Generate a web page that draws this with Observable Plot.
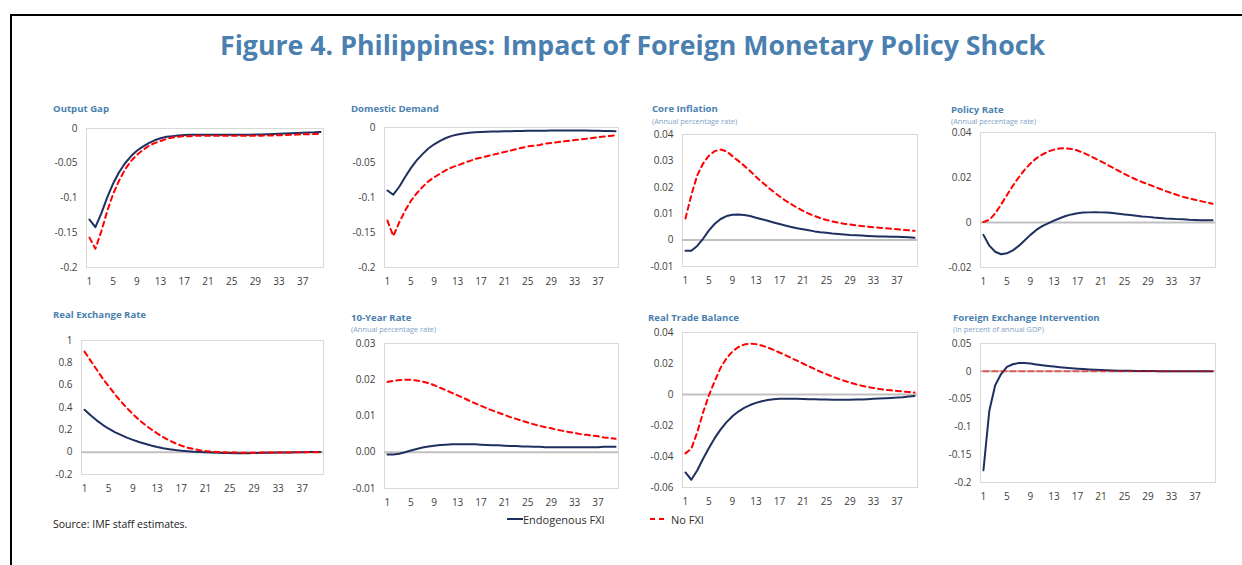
<!DOCTYPE html>
<html>
<head>
<meta charset="utf-8">
<script src="https://cdn.jsdelivr.net/npm/d3@7"></script>
<script src="https://cdn.jsdelivr.net/npm/@observablehq/plot@0.6"></script>
<style>
  html, body { margin: 0; padding: 0; background: #fff; }
  #root { position: relative; width: 1242px; height: 565px; overflow: hidden; font-family: 'Open Sans', 'Noto Sans', sans-serif; }
  .abs { position: absolute; white-space: nowrap; }
  .ptitle { font-weight: 700; font-size: 9.6px; color: #4a7fb0; transform: translateY(-50%); line-height: 1; }
  .psub { font-size: 7.4px; color: #7f9fc4; transform: translateY(-50%); line-height: 1; }
  .legtext { font-size: 11px; color: #303030; transform: translateY(-50%); }
</style>
</head>
<body>
<div id="root">
  <div class="abs" style="left:10px;top:14px;width:1240px;height:560px;border-top:2px solid #000;border-left:2px solid #000;"></div>
  <div id="mainTitle" class="abs" style="left:220px;top:45px;font-weight:700;font-size:26px;color:#4a7fb0;transform-origin:0 50%;">Figure 4. Philippines: Impact of Foreign Monetary Policy Shock</div>
</div>
<script>
// ---------- DATA ----------
const periods = [1,2,3,4,5,6,7,8,9,10,11,12,13,14,15,16,17,18,19,20,21,22,23,24,25,26,27,28,29,30,31,32,33,34,35,36,37,38,39,40];
const xTickLabels = [1,5,9,13,17,21,25,29,33,37];
const seriesNames = ["Endogenous FXI", "No FXI"];

const outputGapEndo = [-0.131,-0.142,-0.122,-0.099,-0.079,-0.063,-0.050,-0.040,-0.032,-0.026,-0.021,-0.017,-0.014,-0.012,-0.011,-0.010,-0.0095,-0.009,-0.009,-0.009,-0.009,-0.009,-0.009,-0.009,-0.009,-0.009,-0.009,-0.009,-0.0088,-0.0085,-0.0082,-0.008,-0.0077,-0.0073,-0.007,-0.0066,-0.0062,-0.0058,-0.0055,-0.005];
const outputGapNoFXI = [-0.157,-0.173,-0.148,-0.119,-0.094,-0.075,-0.059,-0.047,-0.038,-0.031,-0.025,-0.021,-0.018,-0.015,-0.013,-0.012,-0.011,-0.011,-0.0105,-0.0105,-0.0105,-0.0105,-0.0105,-0.0105,-0.0105,-0.0105,-0.0105,-0.0105,-0.0105,-0.0103,-0.0101,-0.0099,-0.0097,-0.0094,-0.0091,-0.0088,-0.0085,-0.0082,-0.0079,-0.0076];
const outputGapTicks = [-0.2,-0.15,-0.1,-0.05,0];

const domDemandEndo = [-0.090,-0.096,-0.085,-0.071,-0.058,-0.047,-0.038,-0.030,-0.024,-0.019,-0.015,-0.012,-0.010,-0.0085,-0.0075,-0.0068,-0.0063,-0.006,-0.0058,-0.0056,-0.0054,-0.0052,-0.005,-0.0049,-0.0048,-0.0047,-0.0046,-0.0045,-0.0044,-0.0044,-0.0044,-0.0044,-0.0044,-0.0044,-0.0044,-0.0045,-0.0047,-0.005,-0.0051,-0.0052];
const domDemandNoFXI = [-0.133,-0.155,-0.136,-0.119,-0.105,-0.094,-0.085,-0.077,-0.071,-0.066,-0.061,-0.057,-0.054,-0.051,-0.048,-0.045,-0.043,-0.041,-0.039,-0.037,-0.035,-0.033,-0.031,-0.029,-0.027,-0.026,-0.025,-0.023,-0.022,-0.021,-0.020,-0.019,-0.018,-0.017,-0.016,-0.015,-0.014,-0.013,-0.012,-0.011];
const domDemandTicks = [-0.2,-0.15,-0.1,-0.05,0];

const coreInflEndo = [-0.004,-0.004,-0.0022,0.0005,0.0037,0.0062,0.0080,0.0091,0.0096,0.0097,0.0095,0.0091,0.0085,0.0079,0.0073,0.0067,0.0061,0.0055,0.0050,0.0045,0.0041,0.0037,0.0033,0.0030,0.0028,0.0025,0.0023,0.0021,0.0019,0.0018,0.0017,0.0016,0.0015,0.0014,0.0014,0.0013,0.0013,0.0012,0.0011,0.0009];
const coreInflNoFXI = [0.0082,0.017,0.0245,0.029,0.032,0.0337,0.0343,0.0336,0.0318,0.0300,0.0282,0.0262,0.0240,0.0220,0.0201,0.0183,0.0166,0.0150,0.0136,0.0123,0.0111,0.0100,0.0091,0.0083,0.0076,0.0071,0.0066,0.0062,0.0059,0.0056,0.0053,0.0051,0.0049,0.0047,0.0045,0.0043,0.0041,0.0039,0.0037,0.0035];
const coreInflTicks = [-0.01,0,0.01,0.02,0.03,0.04];

const policyEndo = [-0.0055,-0.0103,-0.0130,-0.0141,-0.0137,-0.0124,-0.0104,-0.0080,-0.0055,-0.0033,-0.0016,-0.0004,0.0008,0.0019,0.0029,0.0036,0.0041,0.0044,0.0045,0.0046,0.0045,0.0044,0.0042,0.0039,0.0036,0.0033,0.0030,0.0027,0.0025,0.0022,0.0020,0.0018,0.0017,0.0015,0.0014,0.0012,0.0011,0.0010,0.0010,0.0010];
const policyNoFXI = [0.0002,0.0012,0.0040,0.0080,0.0122,0.0163,0.0200,0.0234,0.0262,0.0285,0.0302,0.0315,0.0324,0.0329,0.0330,0.0327,0.0320,0.0310,0.0298,0.0285,0.0272,0.0258,0.0244,0.0230,0.0216,0.0203,0.0191,0.0180,0.0170,0.0160,0.0150,0.0140,0.0131,0.0122,0.0114,0.0107,0.0101,0.0095,0.0089,0.0083];
const policyTicks = [-0.02,0,0.02,0.04];

const rerEndo = [0.380,0.330,0.285,0.245,0.210,0.180,0.155,0.130,0.110,0.091,0.075,0.060,0.047,0.036,0.027,0.019,0.013,0.008,0.004,0.001,-0.001,-0.003,-0.005,-0.007,-0.008,-0.009,-0.009,-0.009,-0.008,-0.007,-0.006,-0.005,-0.004,-0.003,-0.002,-0.001,0.000,0.001,0.001,0.001];
const rerNoFXI = [0.900,0.820,0.740,0.660,0.590,0.520,0.455,0.395,0.340,0.290,0.245,0.205,0.168,0.135,0.105,0.080,0.058,0.041,0.028,0.018,0.011,0.006,0.002,-0.001,-0.003,-0.004,-0.005,-0.005,-0.005,-0.004,-0.004,-0.003,-0.003,-0.002,-0.002,-0.001,-0.001,0.000,0.000,0.000];
const rerTicks = [-0.2,0,0.2,0.4,0.6,0.8,1];

const tenYrEndo = [-0.0006,-0.0006,-0.0004,0.0000,0.0005,0.0009,0.0013,0.0016,0.0018,0.0020,0.0021,0.0022,0.0022,0.0022,0.0022,0.0022,0.0021,0.0020,0.0019,0.0019,0.0018,0.0017,0.0017,0.0016,0.0016,0.0015,0.0015,0.0014,0.0014,0.0014,0.0014,0.0014,0.0014,0.0014,0.0014,0.0014,0.0014,0.0015,0.0015,0.0015];
const tenYrNoFXI = [0.0194,0.0197,0.0199,0.0200,0.0200,0.0198,0.0195,0.0191,0.0185,0.0178,0.0171,0.0164,0.0157,0.0150,0.0142,0.0135,0.0128,0.0121,0.0115,0.0109,0.0103,0.0097,0.0092,0.0087,0.0082,0.0077,0.0073,0.0069,0.0066,0.0062,0.0059,0.0056,0.0053,0.0050,0.0048,0.0046,0.0044,0.0041,0.0039,0.0037];
const tenYrTicks = [-0.01,0,0.01,0.02,0.03];

const tradeEndo = [-0.0503,-0.0550,-0.0490,-0.0415,-0.0345,-0.0280,-0.0225,-0.0178,-0.0140,-0.0110,-0.0086,-0.0068,-0.0054,-0.0044,-0.0036,-0.0031,-0.0028,-0.0027,-0.0027,-0.0028,-0.0029,-0.0030,-0.0031,-0.0032,-0.0033,-0.0034,-0.0034,-0.0034,-0.0034,-0.0033,-0.0032,-0.0030,-0.0028,-0.0026,-0.0024,-0.0022,-0.0020,-0.0017,-0.0013,-0.0009];
const tradeNoFXI = [-0.0380,-0.0350,-0.0245,-0.0116,-0.0005,0.0088,0.0174,0.0234,0.0277,0.0306,0.0322,0.0328,0.0325,0.0316,0.0303,0.0288,0.0271,0.0254,0.0236,0.0218,0.0200,0.0182,0.0164,0.0147,0.0131,0.0116,0.0102,0.0089,0.0077,0.0066,0.0057,0.0049,0.0042,0.0036,0.0031,0.0027,0.0023,0.0019,0.0016,0.0013];
const tradeTicks = [-0.06,-0.04,-0.02,0,0.02,0.04];

const fxiEndo = [-0.178,-0.071,-0.025,-0.005,0.008,0.0127,0.0148,0.0150,0.0140,0.0124,0.0110,0.0097,0.0085,0.0075,0.0065,0.0056,0.0048,0.0040,0.0033,0.0027,0.0022,0.0018,0.0015,0.0012,0.0010,0.0008,0.0007,0.0006,0.0005,0.0004,0.0003,0.0003,0.0002,0.0002,0.0001,0.0001,0.0001,0.0000,0.0000,0.0000];
const fxiNoFXI = [0,0,0,0,0,0,0,0,0,0,0,0,0,0,0,0,0,0,0,0,0,0,0,0,0,0,0,0,0,0,0,0,0,0,0,0,0,0,0,0];
const fxiTicks = [-0.2,-0.15,-0.1,-0.05,0,0.05];

// ---------- LAYOUT ----------
const NAVY = "#1f2f60";
const RED = "#ff0000";
const plain = d => String(+d.toFixed(3));
const fixed2 = d => d.toFixed(2);

const panels = [
  {title:"Output Gap", tx:53, ty:109, frame:[86,128,323,267], ticks:outputGapTicks, fmt:plain, endo:outputGapEndo, nofxi:outputGapNoFXI, zero:false},
  {title:"Domestic Demand", tx:351, ty:109, frame:[384,127,618,267], ticks:domDemandTicks, fmt:plain, endo:domDemandEndo, nofxi:domDemandNoFXI, zero:false},
  {title:"Core Inflation", sub:"(Annual percentage rate)", tx:652, ty:109, sy:121.5, frame:[682,134,917,266], ticks:coreInflTicks, fmt:plain, endo:coreInflEndo, nofxi:coreInflNoFXI, zero:true},
  {title:"Policy Rate", sub:"(Annual percentage rate)", tx:951, ty:109.5, sy:122, frame:[980,132,1215,267], ticks:policyTicks, fmt:plain, endo:policyEndo, nofxi:policyNoFXI, zero:true},
  {title:"Real Exchange Rate", tx:53, ty:315, frame:[81,340,323,474], ticks:rerTicks, fmt:plain, endo:rerEndo, nofxi:rerNoFXI, zero:true},
  {title:"10-Year Rate", sub:"(Annual percentage rate)", tx:351, ty:318, sy:330, frame:[384,343,618,488], ticks:tenYrTicks, fmt:fixed2, endo:tenYrEndo, nofxi:tenYrNoFXI, zero:true},
  {title:"Real Trade Balance", tx:648, ty:318, frame:[682,332,917,487], ticks:tradeTicks, fmt:plain, endo:tradeEndo, nofxi:tradeNoFXI, zero:true},
  {title:"Foreign Exchange Intervention", sub:"(In percent of annual GDP)", tx:953, ty:318, sy:330, frame:[980,343,1215,482], ticks:fxiTicks, fmt:plain, endo:fxiEndo, nofxi:fxiNoFXI, zero:true, redOpacity:0.55}
];

const root = document.getElementById("root");
const mL = 60, mR = 12, mT = 12, mB = 28;

function addDiv(cls, text, left, top, extra) {
  const d = document.createElement("div");
  d.className = "abs " + cls;
  d.textContent = text;
  d.style.left = left + "px";
  d.style.top = top + "px";
  if (extra) Object.assign(d.style, extra);
  root.appendChild(d);
  return d;
}

for (const p of panels) {
  const [x0, y0, x1, y1] = p.frame;
  const rows = periods.map((t, i) => ({period: t, endo: p.endo[i], nofxi: p.nofxi[i]}));
  const marks = [Plot.frame({stroke: "#d9d9d9", strokeWidth: 1})];
  if (p.zero) marks.push(Plot.ruleY([0], {stroke: "#c0c0c0", strokeWidth: 2}));
  marks.push(Plot.line(rows, {x: "period", y: "endo", stroke: NAVY, strokeWidth: 2}));
  marks.push(Plot.line(rows, {x: "period", y: "nofxi", stroke: RED, strokeWidth: 2, strokeDasharray: "5,4", strokeOpacity: p.redOpacity ?? 1}));
  const svg = Plot.plot({
    width: (x1 - x0) + mL + mR,
    height: (y1 - y0) + mT + mB,
    marginLeft: mL, marginRight: mR, marginTop: mT, marginBottom: mB,
    x: {domain: [0.5, 40.5], ticks: xTickLabels, tickSize: 0, tickPadding: 10, label: null, tickFormat: d => String(d)},
    y: {domain: [p.ticks[0], p.ticks[p.ticks.length - 1]], ticks: p.ticks, tickSize: 0, tickPadding: 9, label: null, tickFormat: p.fmt},
    style: {fontFamily: "'Open Sans', sans-serif", fontSize: "10px", color: "#404040", background: "transparent", overflow: "visible"},
    marks
  });
  svg.style.position = "absolute";
  svg.style.left = (x0 - mL) + "px";
  svg.style.top = (y0 - mT) + "px";
  root.appendChild(svg);
  addDiv("ptitle", p.title, p.tx, p.ty);
  if (p.sub) addDiv("psub", p.sub, p.tx, p.sy);
}

// legend
const leg = document.createElementNS("http://www.w3.org/2000/svg", "svg");
leg.setAttribute("width", 180); leg.setAttribute("height", 6);
leg.style.position = "absolute"; leg.style.left = "505px"; leg.style.top = "516px";
leg.innerHTML = `<line x1="2" x2="18" y1="3" y2="3" stroke="${NAVY}" stroke-width="2"/>` +
  `<line x1="145" x2="163" y1="3" y2="3" stroke="${RED}" stroke-width="2" stroke-dasharray="5,4"/>`;
root.appendChild(leg);
addDiv("legtext", seriesNames[0], 523, 519);
addDiv("legtext", seriesNames[1], 671, 519);
addDiv("legtext", "Source: IMF staff estimates.", 53, 524, {fontSize: "10.5px", color: "#202020"});

// fit main title width
const mt = document.getElementById("mainTitle");
const w = mt.getBoundingClientRect().width;
mt.style.transform = `translateY(-50%) scaleX(${825 / w})`;
</script>
</body>
</html>
